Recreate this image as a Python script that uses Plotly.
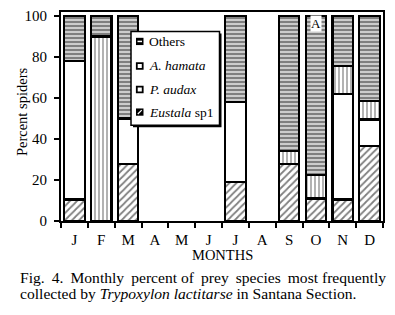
import plotly.graph_objects as go

months = ["J", "F", "M", "A", "M", "J", "J", "A", "S", "O", "N", "D"]
eustala = [10.5, None, 28, None, None, None, 19, None, 28, 11, 10.5, 36.5]
p_audax = [67.5, None, 22, None, None, None, 39, None, None, None, 51.5, 13]
a_hamata = [None, 90, None, None, None, None, None, None, 6, 11.5, 13.5, 9]
others = [22, 10, 50, None, None, None, 42, None, 66, 77.5, 24.5, 41.5]
yticks = [0, 20, 40, 60, 80, 100]
legend_names = ["Others", "<i>A. hamata</i>", "<i>P. audax</i>", "<i>Eustala</i> sp1"]

FONT = "Liberation Serif"
xs = list(range(len(months)))

W, H = 395, 315
L, R, T, B = 61, 12, 8, 94
PW, PH = W - L - R, H - T - B          # 322 x 213
X0, YB = L, H - B                       # plot left / bottom in px


def px(x):
    return (x - X0) / PW


def py(y):
    return (YB - y) / PH


fig = go.Figure()
series = [
    ("Eustala sp1", eustala, dict(shape="/", size=5, solidity=0.35)),
    ("P. audax", p_audax, None),
    ("A. hamata", a_hamata, dict(shape="|", size=4, solidity=0.3)),
    ("Others", others, dict(shape="-", size=4, solidity=0.7)),
]
for name, vals, pat in series:
    marker = dict(color="white", line=dict(color="black", width=2.2))
    if pat:
        marker["pattern"] = dict(fgcolor="black", bgcolor="white", fillmode="overlay", **pat)
    fig.add_trace(go.Bar(x=xs, y=vals, name=name, width=0.76, marker=marker,
                         showlegend=False))

fig.update_layout(
    barmode="stack",
    width=W, height=H,
    margin=dict(l=L, r=R, t=T, b=B),
    paper_bgcolor="white", plot_bgcolor="white",
    font=dict(family=FONT, size=15, color="black"),
    showlegend=False,
)
fig.update_xaxes(
    range=[-0.5, 11.5], tickmode="array", tickvals=xs, ticktext=months,
    ticks="", ticklabelstandoff=4,
    showline=True, linecolor="black", linewidth=2, mirror=True,
    showgrid=False, zeroline=False,
    minor=dict(tickmode="array", tickvals=[i - 0.5 for i in range(13)],
               ticks="outside", ticklen=5, tickwidth=2, tickcolor="black", showgrid=False),
    tickfont=dict(family=FONT, size=15),
)
fig.update_yaxes(
    range=[0, 102], tickmode="array", tickvals=yticks,
    ticks="outside", ticklen=5, tickwidth=2, tickcolor="black",
    ticklabelstandoff=4,
    showline=True, linecolor="black", linewidth=2, mirror=True,
    showgrid=False, zeroline=False,
    tickfont=dict(family=FONT, size=15),
)

# legend box (with drop shadow)
fig.add_shape(type="rect", xref="paper", yref="paper", layer="above",
              x0=px(133), x1=px(221.5), y0=py(125.5), y1=py(30),
              fillcolor="black", line=dict(width=0))
fig.add_shape(type="rect", xref="paper", yref="paper", layer="above",
              x0=px(131), x1=px(219.5), y0=py(123.5), y1=py(28),
              fillcolor="white", line=dict(color="black", width=1.5))
rows = [38, 63, 87, 110]
sx0, sx1 = 136, 143.5
for name, yc in zip(legend_names, rows):
    if name == "Others":
        fig.add_shape(type="rect", xref="paper", yref="paper", layer="above",
                      x0=px(sx0), x1=px(sx1), y0=py(yc + 3.7), y1=py(yc - 3.7),
                      fillcolor="black", line=dict(width=0))
        fig.add_shape(type="line", xref="paper", yref="paper", layer="above",
                      x0=px(sx0 + 1.5), x1=px(sx1 - 1.5), y0=py(yc), y1=py(yc),
                      line=dict(color="white", width=1.5))
    elif "Eustala" in name:
        fig.add_shape(type="rect", xref="paper", yref="paper", layer="above",
                      x0=px(sx0), x1=px(sx1), y0=py(yc + 3.7), y1=py(yc - 3.7),
                      fillcolor="black", line=dict(width=0))
        fig.add_shape(type="line", xref="paper", yref="paper", layer="above",
                      x0=px(sx0 + 1.8), x1=px(sx1 - 1.8), y0=py(yc + 2), y1=py(yc - 2),
                      line=dict(color="white", width=1.2))
    else:
        fig.add_shape(type="rect", xref="paper", yref="paper", layer="above",
                      x0=px(sx0 + 0.8), x1=px(sx1 - 0.8), y0=py(yc + 2.9), y1=py(yc - 2.9),
                      fillcolor="white", line=dict(color="black", width=1.8))
    fig.add_annotation(text=name, xref="paper", yref="paper", x=px(147), y=py(yc),
                       xanchor="left", yanchor="middle", showarrow=False,
                       font=dict(size=13.5))

fig.add_annotation(text="Percent spiders", xref="paper", yref="paper",
                   x=px(22), y=py(110), textangle=-90, showarrow=False,
                   xanchor="center", yanchor="middle", font=dict(size=14.5))
fig.add_annotation(text="MONTHS", xref="paper", yref="paper",
                   x=0.5, y=py(256), showarrow=False,
                   xanchor="center", yanchor="middle", font=dict(size=14.5))
fig.add_annotation(text="A", xref="x", yref="paper", x=9, y=py(20),
                   showarrow=False, bgcolor="white", borderpad=0,
                   xanchor="center", yanchor="middle", font=dict(size=13))
ts = "\u2009"
words1 = ["Fig.", "4.", "Monthly", "percent", "of", "prey", "species", "most", "frequently"]
line1 = words1[0]
for i, w in enumerate(words1[1:]):
    line1 += (" " + ts if i % 4 != 3 else " ") + w
fig.add_annotation(text=line1,
                   xref="paper", yref="paper", x=px(18), y=py(279),
                   showarrow=False, xanchor="left", yanchor="middle",
                   font=dict(size=15.6))
fig.add_annotation(text="collected by <i>Trypoxylon lactitarse</i> in Santana Section.",
                   xref="paper", yref="paper", x=px(18), y=py(295),
                   showarrow=False, xanchor="left", yanchor="middle",
                   font=dict(size=15.6))

# remove the browser's default 8px body margin so the figure sits at the page origin
fig.write_html("out.html", config={"displayModeBar": False},
               post_script="document.body.style.margin='0';")
